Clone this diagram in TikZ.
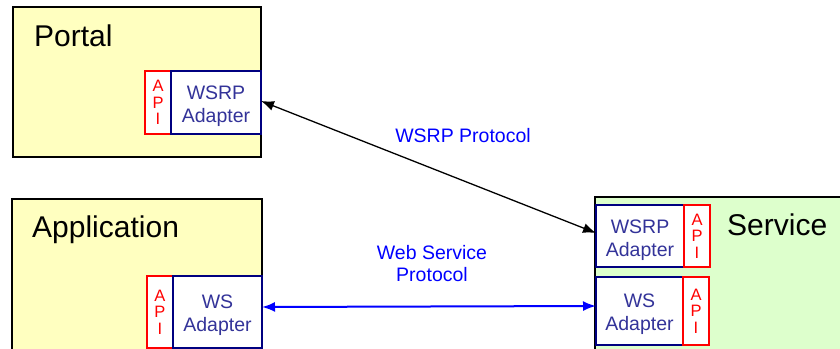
\documentclass[tikz,border=0pt]{standalone}
\usepackage{fontspec}
\setmainfont{Liberation Sans}
\usetikzlibrary{arrows.meta}
\definecolor{sysyellow}{HTML}{FFFFC0}
\definecolor{sysgreen}{HTML}{DDFFCC}
\definecolor{adaptnavy}{HTML}{000080}
\definecolor{adapttext}{HTML}{333399}
\definecolor{protoblue}{HTML}{0000FF}
\tikzset{
  system/.style={draw=black, line width=1.6pt, anchor=north west, inner sep=0pt, outer sep=0pt},
  sysname/.style={anchor=base west, inner sep=0pt, font=\fontsize{30}{32}\selectfont},
  adapter/.style={draw=adaptnavy, fill=white, line width=1.6pt, anchor=north west, inner sep=0pt,
    outer sep=0pt},
  adaptname/.style={text=adapttext, align=center, font=\fontsize{19.5}{23}\selectfont},
  apibox/.style={draw=red, fill=white, line width=1.6pt, anchor=north west, inner sep=0pt,
    outer sep=0pt, align=center, text=red, font=\fontsize{16.5}{16.5}\selectfont,
    minimum width=26pt},
  proto/.style={text=protoblue, align=center, font=\fontsize{19.5}{22}\selectfont},
  protoline/.style={{Latex[length=13pt,width=10pt]}-{Latex[length=13pt,width=10pt]}}
}
\begin{document}
\begin{tikzpicture}[x=1pt,y=-1pt]
  \useasboundingbox (0,0) rectangle (840,348);
  \clip (0,0) rectangle (840,348);
  % systems
  \node[system, fill=sysyellow, minimum width=248pt, minimum height=150pt] (portal) at (13,7) {};
  \node[system, fill=sysyellow, minimum width=250pt, minimum height=170pt] (appl) at (12,199) {};
  \node[system, fill=sysgreen, minimum width=260pt, minimum height=170pt] (service) at (595,197) {};
  \node[sysname] (portaltxt) at (34,46) {Portal};
  \node[sysname] (appltxt) at (32,237) {Application};
  \node[sysname] (servicetxt) at (727,235) {Service};
  % portal side
  \node[apibox, minimum height=63pt] (portalapi) at (145,71) {A\\P\\I};
  \node[adapter, minimum width=90pt, minimum height=63pt] (portalwsrp) at (171,71) {};
  \node[adaptname] (portalwsrptxt) at ([yshift=-4pt]portalwsrp) {WSRP\\Adapter};
  % application side
  \node[apibox, minimum height=72pt] (applapi) at (147,276) {A\\P\\I};
  \node[adapter, minimum width=89pt, minimum height=72pt] (applws) at (173,276) {};
  \node[adaptname] (applwstxt) at ([yshift=-3pt]applws) {WS\\Adapter};
  % service side
  \node[adapter, minimum width=88pt, minimum height=62pt] (servicewsrp) at (596,205) {};
  \node[adaptname] (servicewsrptxt) at ([yshift=-4pt]servicewsrp) {WSRP\\Adapter};
  \node[apibox, minimum height=62pt] (servicewsrpapi) at (684,205) {A\\P\\I};
  \node[adapter, minimum width=87pt, minimum height=68pt] (servicews) at (596,277) {};
  \node[adaptname] (servicewstxt) at ([yshift=-3pt]servicews) {WS\\Adapter};
  \node[apibox, minimum height=68pt] (servicewsapi) at (683,277) {A\\P\\I};
  % protocols
  \draw[protoline, line width=1.3pt] ([yshift=1.5pt]portalwsrp.east) -- ([yshift=3pt]servicewsrp.west);
  \draw[protoline, line width=2pt, protoblue] ([yshift=5pt]applws.east) -- ([yshift=5pt]servicews.west);
  \node[proto] (wsrpproto) at (463,136) {WSRP Protocol};
  \node[proto] (wsproto) at (432,264) {Web Service\\Protocol};
\end{tikzpicture}
\end{document}
